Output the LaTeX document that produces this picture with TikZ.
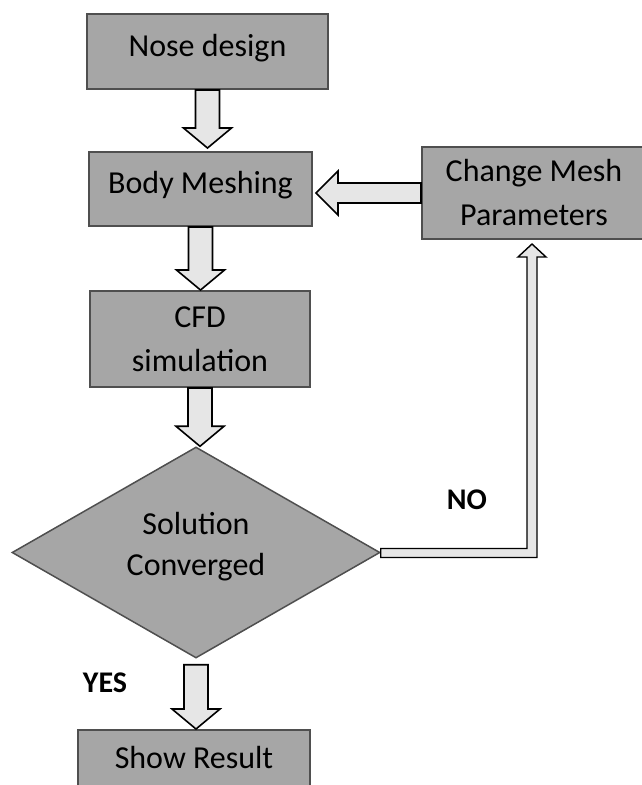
\documentclass[tikz,border=0pt]{standalone}
\usepackage{fontspec}
\setmainfont{Carlito}
\usetikzlibrary{shapes.geometric,calc}
\definecolor{boxfill}{HTML}{A6A6A6}
\definecolor{boxline}{HTML}{4F4F4F}
\definecolor{arrfill}{HTML}{E6E6E6}
\tikzset{
  box/.style={rectangle, fill=boxfill, draw=boxline, line width=2pt, inner sep=0pt,
    align=center, font=\fontsize{32}{44}\selectfont},
  decision/.style={diamond, aspect=1.74, fill=boxfill, draw=boxline, line width=1.5pt, inner sep=0pt,
    align=center, font=\fontsize{32}{41}\selectfont},
  blockarrow/.style={fill=arrfill, draw=black, line width=1.6pt, line join=miter},
  lbl/.style={font=\fontsize{30}{36}\selectfont\bfseries}
}
\newcommand\blockdown[2]{%
  \draw[blockarrow] let \p1=(#1), \p2=(#2) in
   (\x1-12pt,\y1) -- (\x1-12pt,\y2+20pt) -- (\x1-24pt,\y2+20pt) -- (\x1,\y2)
   -- (\x1+24pt,\y2+20pt) -- (\x1+12pt,\y2+20pt) -- (\x1+12pt,\y1) -- cycle;}
\begin{document}
\begin{tikzpicture}[x=1pt,y=-1pt]
\useasboundingbox (0,0) rectangle (642,785);
\clip (0,0) rectangle (642,785);
\node[box, minimum width=241pt, minimum height=75pt, text depth=13pt] (nose) at (207.5,51.5) {Nose design};
\node[box, minimum width=223pt, minimum height=74pt, text depth=13pt] (body) at (200.5,189) {Body Meshing};
\node[box, minimum width=224pt, minimum height=92pt] (chg) at (534,193) {Change Mesh\\Parameters};
\node[box, minimum width=220pt, minimum height=96pt] (cfd) at (200,339) {CFD\\simulation};
\node[decision, minimum width=368pt, minimum height=211pt, text depth=18pt] (dec) at (196,552.5) {Solution\\Converged};
\node[box, minimum width=232pt, minimum height=64pt, text depth=10pt] (res) at (194,762) {Show Result};
\coordinate (decbelow) at ([yshift=-6pt]dec.south);
% vertical block arrows
\blockdown{nose.south}{$(body.north)+(0,-3)$}
\blockdown{body.south}{cfd.north}
\blockdown{cfd.south}{dec.north}
\blockdown{decbelow}{res.north}
% left block arrow
\draw[blockarrow] let \p1=(chg.west), \p2=(body.east) in
  (\x1,\y1+10pt) -- (\x2+25pt,\y1+10pt) -- (\x2+25pt,\y1+22pt) -- (\x2+3pt,\y1)
  -- (\x2+25pt,\y1-22pt) -- (\x2+25pt,\y1-10pt) -- (\x1,\y1-10pt) -- cycle;
% NO feedback arrow
\draw[blockarrow, line width=1.4pt] let \p1=(dec.east), \p2=(chg.south) in
  (\x1,\y1+4pt) -- (527pt,\y1+4pt) -- (527pt,\y2-17pt) -- (518pt,\y2-17pt)
  -- (532pt,\y2-4pt) -- (546pt,\y2-17pt) -- (537pt,\y2-17pt) -- (537pt,\y1-5pt)
  -- (\x1,\y1-5pt) -- cycle;
\node[lbl] (no) at (467,500) {NO};
\node[lbl] (yes) at (105,683) {YES};
\end{tikzpicture}
\end{document}
